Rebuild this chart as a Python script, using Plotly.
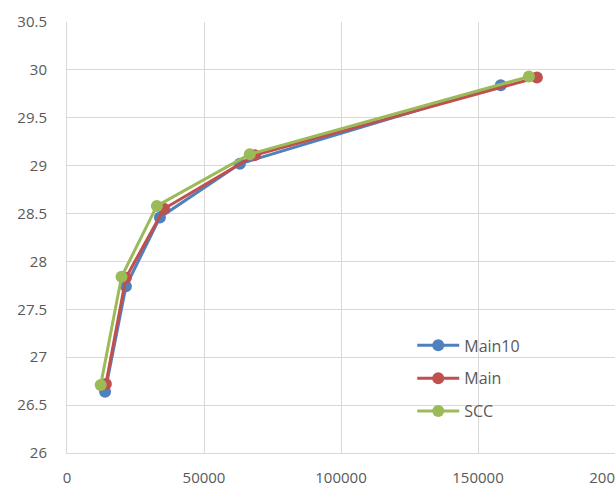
import plotly.graph_objects as go

main10_x = [13900, 21500, 33900, 63100, 158300]
main10_y = [26.64, 27.74, 28.46, 29.02, 29.84]
main_x = [14200, 21500, 35400, 68600, 171500]
main_y = [26.72, 27.83, 28.55, 29.11, 29.92]
scc_x = [12300, 19900, 32800, 66700, 168600]
scc_y = [26.71, 27.84, 28.58, 29.12, 29.93]

x_ticks = [0, 50000, 100000, 150000, 200000]
y_ticks = [26, 26.5, 27, 27.5, 28, 28.5, 29, 29.5, 30, 30.5]
y_ticktext = ["26", "26.5", "27", "27.5", "28", "28.5", "29", "29.5", "30", "30.5"]

series = [
    ("Main10", main10_x, main10_y, "#4F81BD"),
    ("Main", main_x, main_y, "#C0504D"),
    ("SCC", scc_x, scc_y, "#9BBB59"),
]

fig = go.Figure()
for i, (name, xs, ys, col) in enumerate(series):
    fig.add_trace(go.Scatter(
        x=xs, y=ys, name=name, mode="lines+markers",
        line=dict(color=col, width=3),
        marker=dict(color=col, size=12),
        legendgroup=str(i),
    ))

font_col = "#595959"
fig.update_layout(
    width=615, height=496,
    margin=dict(l=67, r=0, t=22, b=43),
    paper_bgcolor="white", plot_bgcolor="white",
    font=dict(family="Open Sans", size=15, color=font_col),
    showlegend=True,
    legend=dict(x=0.63, y=0.289, xanchor="left", yanchor="top",
                bgcolor="rgba(0,0,0,0)", tracegroupgap=9, itemwidth=42,
                font=dict(size=16, color=font_col)),
    xaxis=dict(range=[0, 200000], tickvals=x_ticks,
               ticktext=[str(v) for v in x_ticks],
               showgrid=True, gridcolor="#D9D9D9", gridwidth=1,
               showline=True, linecolor="#D9D9D9", linewidth=1,
               zeroline=False, ticks="", automargin=False,
               ticklabelstandoff=11, ticklabeloverflow="allow"),
    yaxis=dict(range=[26, 30.5], tickvals=y_ticks, ticktext=y_ticktext,
               showgrid=True, gridcolor="#D9D9D9", gridwidth=1,
               showline=True, linecolor="#D9D9D9", linewidth=1,
               zeroline=False, ticks="", automargin=False,
               ticklabelstandoff=16),
)
fig.write_html("out.html", config={"displayModeBar": False},
               post_script="document.body.style.margin='0';document.body.style.overflow='hidden';")
